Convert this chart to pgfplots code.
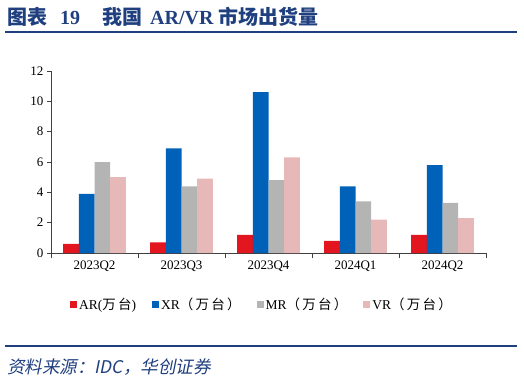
\documentclass[border=0pt]{standalone}
\usepackage{pgfplots}
\pgfplotsset{compat=1.18}
\usepackage{pgfplotstable}
\usepackage{fontspec}
\setmainfont{Liberation Serif}
\newfontfamily\cjk{Noto Sans CJK SC}
\newfontfamily\cjkit{Noto Sans CJK SC}[FakeSlant=0.2]
\definecolor{arred}{HTML}{E3151E}
\definecolor{xrblue}{HTML}{0061B9}
\definecolor{mrgray}{HTML}{B4B4B4}
\definecolor{vrpink}{HTML}{E6B8B8}
\definecolor{navy}{HTML}{1F3F7F}
\pgfplotstableread{
x AR XR MR VR
0 0.6 3.9 6.0 5.0
1 0.7 6.9 4.4 4.9
2 1.2 10.6 4.8 6.3
3 0.8 4.4 3.4 2.2
4 1.2 5.8 3.3 2.3
}\datatable
\begin{document}
\begin{tikzpicture}
\path[use as bounding box] (0,0) rectangle (524bp,-381bp);
\node[anchor=west, text=navy, font=\fontsize{20bp}{22bp}\selectfont\bfseries, inner sep=0pt] at (7bp,-17bp) {{\cjk 图表}\hspace{13bp}19\hspace{22bp}{\cjk 我国}\hspace{8bp}AR/VR\hspace{5bp}{\cjk 市场出货量}};
\draw[navy, line width=2bp] (5bp,-31.5bp) -- (517bp,-31.5bp);
\begin{axis}[
  at={(51bp,-253bp)}, anchor=south west,
  scale only axis, width=435bp, height=182bp,
  xmin=-0.5, xmax=4.5, ymin=0, ymax=12,
  enlargelimits=false,
  ybar=0pt, bar width=15.7bp,
  axis lines*=left,
  axis line style={black!75, line width=0.6bp},
  xtick={0,...,4},
  xticklabels={2023Q2,2023Q3,2023Q4,2024Q1,2024Q2},
  major x tick style={draw=none},
  minor xtick={-0.5,0.5,1.5,2.5,3.5,4.5},
  minor tick length=5bp,
  minor x tick style={black!75, line width=0.6bp},
  ytick={0,2,...,12},
  major tick length=4bp,
  major y tick style={black!75, line width=0.6bp},
  tick align=outside,
  tick label style={font=\fontsize{13bp}{15bp}\selectfont},
  /pgf/number format/assume math mode=true,
  legend columns=4,
  legend style={draw=none, fill=none, at={(0.485,-0.285)}, anchor=center,
    font=\fontsize{13.5bp}{15bp}\selectfont,
    /tikz/every even column/.append style={column sep=14bp},
    /tikz/every odd column/.append style={column sep=0bp}},
  legend image code/.code={\fill[#1] (0bp,-3.5bp) rectangle (7bp,3.5bp);},
]
\addplot[fill=arred, draw=none] table[x=x,y=AR]{\datatable};
\addplot[fill=xrblue, draw=none] table[x=x,y=XR]{\datatable};
\addplot[fill=mrgray, draw=none] table[x=x,y=MR]{\datatable};
\addplot[fill=vrpink, draw=none] table[x=x,y=VR]{\datatable};
\legend{AR({\cjk 万\,台}),XR{\cjk （\,万\,台\,）},MR{\cjk （\,万\,台\,）},VR{\cjk （\,万\,台\,）}}
\end{axis}
\draw[navy, line width=1.5bp] (5bp,-346bp) -- (517bp,-346bp);
\node[anchor=west, text=navy, font=\fontsize{17.5bp}{19bp}\selectfont, inner sep=0pt] at (7bp,-367bp) {\cjkit 资料来源：{\itshape IDC}，华创证券};
\end{tikzpicture}
\end{document}
